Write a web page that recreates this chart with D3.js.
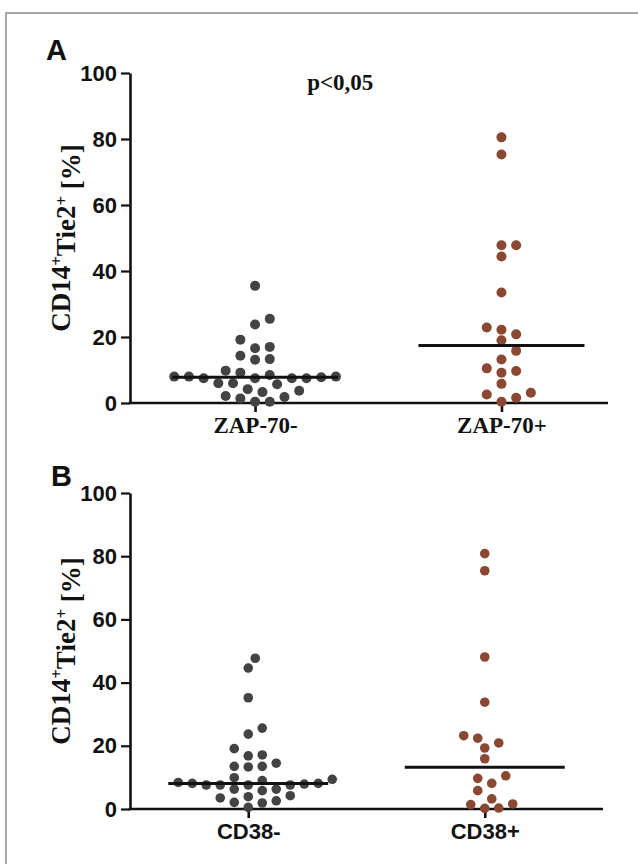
<!DOCTYPE html>
<html>
<head>
<meta charset="utf-8">
<script src="https://cdn.jsdelivr.net/npm/d3@7/dist/d3.min.js"></script>
<style>
    html, body { margin: 0; padding: 0; background: #fff; }
    .tick-label { font-family: 'Liberation Sans', Arial, sans-serif; font-weight: bold; font-size: 22px; fill: #111; }
    .serif { font-family: 'Liberation Serif', 'Times New Roman', serif; font-weight: bold; fill: #111; }
    .panel-letter { font-family: 'Liberation Sans', Arial, sans-serif; font-weight: bold; font-size: 29px; fill: #111; }
</style>
</head>
<body>
<svg id="chart" width="638" height="864"></svg>
<script>
(function() {
    'use strict';

    // DATA *************************************************************
    var GROUPS_A = ['ZAP-70-', 'ZAP-70+'];
    var ZAP_NEG = [35.5, 25.5, 23.8, 19.2, 17.0, 16.6, 14.3, 13.1, 13.3, 9.8, 8.5, 9.2,
                   8.0, 7.8, 7.5, 7.5, 7.5, 7.5, 8.0, 8.0, 6.0, 5.7, 6.0, 3.7, 3.3, 4.2,
                   2.1, 1.4, 0.4, 0.4, 1.8];
    var ZAP_POS = [80.5, 75.3, 47.8, 47.8, 44.4, 33.5, 22.9, 22.2, 20.8, 19.0, 15.8, 13.2,
                   9.2, 10.5, 9.7, 5.8, 2.6, 1.6, 0.4, 3.1];

    var GROUPS_B = ['CD38-', 'CD38+'];
    var CD38_NEG = [47.7, 44.6, 35.2, 25.6, 23.7, 19.1, 16.8, 17.1, 14.5, 13.5, 13.3, 13.5,
                    9.9, 9.0, 9.4, 8.1, 7.9, 7.6, 7.6, 7.6, 7.6, 8.1, 8.4, 6.3, 5.8, 6.3,
                    4.2, 3.5, 3.9, 2.1, 1.9, 2.6, 0.5];
    var CD38_POS = [80.8, 75.4, 48.1, 33.8, 23.2, 22.4, 20.9, 19.3, 15.9, 10.5, 9.7, 8.1,
                    5.8, 3.2, 1.4, 0.2, 0.3, 1.6];

    var Y_TICKS = [0, 20, 40, 60, 80, 100];
    var COLORS = ['#434343', '#8a4732'];

    // PANELS (layout only) *********************************************
    var panels = [
        { letter: 'A', groups: GROUPS_A, series: [ZAP_NEG, ZAP_POS], note: 'p<0,05',
          left: 130, right: 608, top: 73, bottom: 403, padding: 0.47, align: 0.54,
          step: 14.7, r: 5, medianHalf: 83, labelFont: 'serif', letterX: 46, letterY: 60 },
        { letter: 'B', groups: GROUPS_B, series: [CD38_NEG, CD38_POS], note: null,
          left: 130, right: 603, top: 493, bottom: 809, padding: 0.5, align: 0.5,
          step: 14.0, r: 4.8, medianHalf: 80, labelFont: 'sans', letterX: 51, letterY: 486 }
    ];

    var svg = d3.select('#chart');

    // FRAME (top and left edges visible)
    svg.append('path')
        .attr('d', 'M6,870V13H645')
        .attr('fill', 'none')
        .attr('stroke', '#8a8a8a')
        .attr('stroke-width', 1.5);

    // BEESWARM LAYOUT ***************************************************
    // places points on half-step slots, lowest values first
    function swarm(values, yScale, step, h) {
        var placed = [];
        var offsets = new Array(values.length);
        var order = d3.range(values.length).sort(function(a, b) { return values[a] - values[b]; });
        order.forEach(function(i) {
            var y = yScale(values[i]);
            var collides = function(x) {
                return placed.some(function(p) {
                    var dx = (p.x - x) / step, dy = (p.y - y) / h;
                    return dx * dx + dy * dy < 0.999;
                });
            };
            for (var m = 0; m < 60; m++) {
                var cands = m === 0 ? [0] : [m * step / 2, -m * step / 2];
                var hit = cands.filter(function(x) { return !collides(x); });
                if (hit.length) {
                    offsets[i] = hit[0];
                    placed.push({ x: hit[0], y: y });
                    break;
                }
            }
        });
        return offsets;
    }

    // DRAW EACH PANEL ***************************************************
    panels.forEach(function(p) {
        var g = svg.append('g');

        var yScale = d3.scaleLinear().domain([0, 100]).range([p.bottom, p.top]);
        var xScale = d3.scalePoint().domain(p.groups)
                        .range([p.left, p.right])
                        .padding(p.padding).align(p.align);

        // panel letter
        g.append('text')
            .attr('class', 'panel-letter')
            .attr('x', p.letterX).attr('y', p.letterY)
            .text(p.letter);

        // Y AXIS
        var yAxis = d3.axisLeft(yScale).tickValues(Y_TICKS)
                        .tickSize(9).tickPadding(4).tickSizeOuter(0);
        var yAxisG = g.append('g')
                        .attr('transform', 'translate(' + p.left + ',0)')
                        .call(yAxis);
        yAxisG.select('.domain').attr('stroke', '#111').attr('stroke-width', 2.6);
        yAxisG.selectAll('.tick line').attr('stroke', '#111').attr('stroke-width', 2.2);
        yAxisG.selectAll('.tick text')
            .attr('class', 'tick-label')
            .attr('font-family', null).attr('font-size', null);
        yAxisG.attr('font-size', null).attr('font-family', null);

        // X AXIS
        var xAxis = d3.axisBottom(xScale).tickSize(9).tickPadding(8).tickSizeOuter(0);
        var xAxisG = g.append('g')
                        .attr('transform', 'translate(0,' + p.bottom + ')')
                        .call(xAxis);
        xAxisG.attr('font-size', null).attr('font-family', null);
        xAxisG.select('.domain')
            .attr('d', 'M' + (p.left - 1.3) + ',0H' + p.right)
            .attr('stroke', '#111').attr('stroke-width', 2.6);
        xAxisG.selectAll('.tick line').attr('stroke', '#111').attr('stroke-width', 2.6);
        var xl = xAxisG.selectAll('.tick text').attr('dy', null).attr('y', 30);
        if (p.labelFont === 'serif') {
            xl.attr('class', 'serif').style('font-size', '23px');
        } else {
            xl.attr('class', 'tick-label').style('font-size', '22px');
        }

        // Y TITLE
        var title = g.append('text')
                        .attr('class', 'serif')
                        .style('font-size', '27px')
                        .attr('text-anchor', 'middle')
                        .attr('transform', 'translate(70,' + ((p.top + p.bottom) / 2) + ') rotate(-90)');
        title.append('tspan').text('CD14');
        title.append('tspan').attr('dy', '-0.5em').style('font-size', '17px').text('+');
        title.append('tspan').attr('dy', '0.5em').text('Tie2');
        title.append('tspan').attr('dy', '-0.5em').style('font-size', '17px').text('+');
        title.append('tspan').attr('dy', '0.5em').text(' [%]');

        // DOTS
        p.series.forEach(function(vals, si) {
            var cx = xScale(p.groups[si]);
            var offs = swarm(vals, yScale, p.step, 10);
            g.append('g').selectAll('circle')
                .data(vals)
                .enter()
                .append('circle')
                .attr('cx', function(d, i) { return cx + offs[i]; })
                .attr('cy', function(d) { return yScale(d); })
                .attr('r', p.r)
                .attr('fill', COLORS[si]);
        });

        // MEDIAN LINES
        p.series.forEach(function(vals, si) {
            var cx = xScale(p.groups[si]);
            var med = d3.median(vals);
            g.append('line')
                .attr('x1', cx - p.medianHalf).attr('x2', cx + p.medianHalf)
                .attr('y1', yScale(med)).attr('y2', yScale(med))
                .attr('stroke', '#111').attr('stroke-width', 3);
        });

        // SIGNIFICANCE NOTE
        if (p.note) {
            g.append('text')
                .attr('class', 'serif')
                .style('font-size', '23px')
                .attr('text-anchor', 'middle')
                .attr('x', (xScale(p.groups[0]) + xScale(p.groups[1])) / 2 - 38)
                .attr('y', 90)
                .text(p.note);
        }
    });

}());
</script>
</body>
</html>
